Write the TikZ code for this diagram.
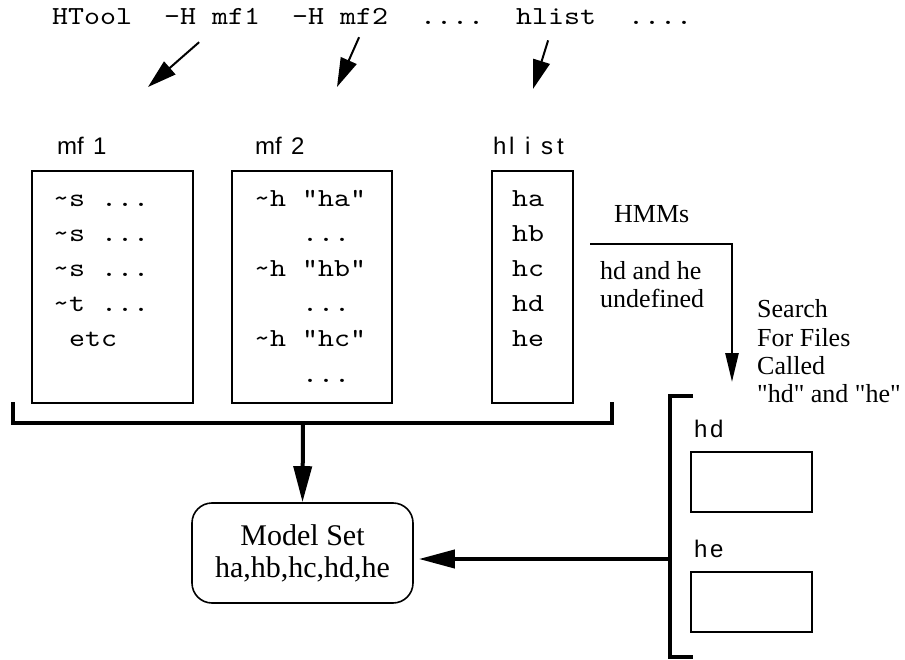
\documentclass[tikz,border=0pt]{standalone}
\usepackage{fontspec}
\setmainfont{Liberation Serif}
\newfontfamily\codefont{lmmono10-regular.otf}[FakeStretch=1.17]
\newfontfamily\labelfont{Liberation Sans}
\usetikzlibrary{arrows.meta}

% letters of the file labels sit in cells of fixed width
\newcommand{\cellchar}[1]{\setbox0\hbox{#1}\ifdim\wd0<16pt \makebox[16pt][l]{#1}\else\box0\fi}
\newcommand{\celltext}[1]{\foreach \ch in {#1}{\cellchar{\ch}}}

\tikzset{
  codetext/.style={font=\codefont\fontsize{26}{32}\selectfont, inner sep=0pt, anchor=base west},
  tagtext/.style={font=\labelfont\fontsize{24}{28}\selectfont, inner sep=0pt, anchor=base west},
  serftext/.style={font=\fontsize{26}{28}\selectfont, inner sep=0pt, anchor=base west},
  filebox/.style={draw, line width=1.6pt, inner sep=0pt},
  setbox/.style={draw, line width=1.6pt, rounded corners=20pt, minimum width=221pt, minimum height=100pt, align=center, font=\fontsize{30}{32}\selectfont},
  thickrule/.style={line width=3.2pt},
  ptrarrow/.style={line width=2pt, -{Triangle[length=29pt,width=17pt]}},
  midarrow/.style={line width=2.6pt, -{Triangle[length=29pt,width=13pt]}},
  fatarrow/.style={line width=4pt, -{Triangle[length=36pt,width=18pt]}}
}

\begin{document}
\begin{tikzpicture}[x=1pt,y=-1pt]
  \useasboundingbox (0,0) rectangle (905,660);
  % command line
  \node[codetext] (tool) at (52,25) {HTool};
  \node[codetext] (optA) at (164,25) {-H mf1};
  \node[codetext] (optB) at (292,25) {-H mf2};
  \node[codetext] (dotsA) at (420,25) {....};
  \node[codetext] (lst) at (516,25) {hlist};
  \node[codetext] (dotsB) at (628,25) {....};
  \coordinate (toA) at (148,87);
  \coordinate (toB) at (337,87);
  \coordinate (toC) at (533,89);
  \draw[ptrarrow] ([shift={(-13,17)}]optA.south) -- (toA);
  \draw[ptrarrow] ([shift={(19,12)}]optB.south) -- (toB);
  \draw[ptrarrow] ([shift={(-8,15)}]lst.south) -- (toC);

  % the three files
  \node[tagtext] (tagA) at (57,155) {\celltext{m,f,1}};
  \node[tagtext] (tagB) at (255,155) {\celltext{m,f,2}};
  \node[tagtext] (tagC) at (493,155) {\celltext{h,l,i,s,t}};
  \node[filebox, minimum width=161pt, minimum height=232pt] (mfone) at (112.5,287) {};
  \node[filebox, minimum width=160pt, minimum height=232pt] (mftwo) at (312,287) {};
  \node[filebox, minimum width=81pt, minimum height=232pt] (hlbox) at (532.5,287) {};
  \foreach \txt [count=\i from 0] in {s,s,s,t}
    \node[codetext] (rowA\i) at (53,207+35*\i) {\textasciitilde\txt{} ...};
  \node[codetext] (rowA4) at (69,347) {etc};
  \foreach \nm [count=\i from 0] in {ha,hb,hc} {
    \node[codetext] (rowB\i) at (254,207+70*\i) {\textasciitilde{}h "\nm"};
    \node[codetext] (dotB\i) at (302,242+70*\i) {...};
  }
  \foreach \nm [count=\i from 0] in {ha,hb,hc,hd,he}
    \node[codetext] (rowC\i) at (512,207+35*\i) {\nm};

  % merge into the model set
  \draw[thickrule] (13,402) -- (13,423) -- (612,423) -- (612,402);
  \coordinate (joinA) at (303,423);
  \node[setbox] (model) at (302.5,553) {Model Set\\ha,hb,hc,hd,he};
  \draw[fatarrow] (joinA) -- (model.north);

  % undefined HMMs
  \node[serftext] (hmm) at (614,223) {HMMs};
  \node[serftext] (undefA) at (600,280) {hd and he};
  \node[serftext] (undefB) at (600,308) {undefined};
  \coordinate (hmmA) at (590,244);
  \coordinate (srch) at (732,382);
  \draw[midarrow] (hmmA) -| (srch);
  \foreach \txt [count=\i from 0] in {Search,For Files,Called,{\textquotedbl hd\textquotedbl{} and \textquotedbl he\textquotedbl}}
    \node[serftext] (look\i) at (757,318+28*\i) {\txt};

  % files found on search
  \draw[thickrule] (693,396) -- (670,396) -- (670,657) -- (693,657);
  \node[tagtext] (tagD) at (694,437) {\celltext{h,d}};
  \node[filebox, minimum width=121pt, minimum height=60pt] (hdbox) at (751.5,482) {};
  \node[tagtext] (tagE) at (694,557) {\celltext{h,e}};
  \node[filebox, minimum width=121pt, minimum height=60pt] (hebox) at (751.5,602) {};
  \coordinate (joinB) at (670,559);
  \draw[fatarrow, shorten >=5pt] (joinB) -- (joinB -| model.east);
\end{tikzpicture}
\end{document}
